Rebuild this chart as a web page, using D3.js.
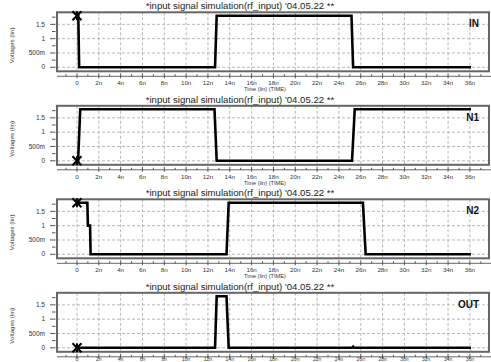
<!DOCTYPE html>
<html><head><meta charset="utf-8">
<script src="https://cdn.jsdelivr.net/npm/d3@7"></script>
<style>html,body{margin:0;padding:0;background:#fff;}svg{display:block;}</style>
</head><body>
<script>
// ---- data ----
const panelNames = ["IN", "N1", "N2", "OUT"];
const titleText = "*input signal simulation(rf_input)  '04.05.22 **";
const xTickValues = [0,2,4,6,8,10,12,14,16,18,20,22,24,26,28,30,32,34,36];
const xTickLabels = ["0","2n","4n","6n","8n","10n","12n","14n","16n","18n","20n","22n","24n","26n","28n","30n","32n","34n","36n"];
const yTickValues = [0, 0.5, 1, 1.5];
const yTickLabels = ["0", "500m", "1", "1.5"];
const xLabel = "Time (lin) (TIME)";
const yLabel = "Voltages (lin)";
// time in ns, voltage in V
const inT  = [0, 0.12, 0.2, 12.65, 12.8, 25.15, 25.3, 36.1];
const inV  = [1.8, 1.8, 0, 0, 1.8, 1.8, 0, 0];
const n1T  = [0, 0.1, 0.3, 12.6, 12.8, 25.2, 25.45, 36.1];
const n1V  = [0, 0, 1.8, 1.8, 0, 0, 1.8, 1.8];
const n2T  = [0, 0.95, 1.0, 1.2, 1.25, 13.7, 13.9, 26.2, 26.45, 36.1];
const n2V  = [1.8, 1.8, 1.0, 1.0, 0, 0, 1.8, 1.8, 0, 0];
const outT = [0, 12.65, 12.8, 13.7, 13.9, 25.2, 25.3, 25.4, 36.1];
const outV = [0, 0, 1.8, 1.8, 0, 0, 0.04, 0, 0];
const seriesT = [inT, n1T, n2T, outT];
const seriesV = [inV, n1V, n2V, outV];

// ---- layout ----
const W = 491, H = 362;
const frameL = 57, frameR = 489, frameH = 59, top0 = 12.3, step = 93.5;
const font = "'Liberation Sans', Arial, sans-serif";

const svg = d3.select("body").append("svg").attr("width", W).attr("height", H);
svg.append("rect").attr("width", W).attr("height", H).attr("fill", "#fff");

const x = d3.scaleLinear().domain([-1.83, 37.75]).range([frameL, frameR]);

panelNames.forEach((name, i) => {
  const top = top0 + i * step;
  const last = i === panelNames.length - 1;
  const y = d3.scaleLinear().domain([-0.14, 1.92]).range([top + frameH, top]);
  const g = svg.append("g");

  // title
  g.append("text").attr("x", 240).attr("y", top - 3.3).attr("text-anchor", "middle")
    .attr("font-family", font).attr("font-size", 9.6).attr("fill", "#222").text(titleText);

  // grid
  g.selectAll(".vg").data(xTickValues).enter().append("line")
    .attr("x1", d => x(d)).attr("x2", d => x(d)).attr("y1", top).attr("y2", top + frameH)
    .attr("stroke", "#b0b0b0").attr("stroke-width", 0.9).attr("stroke-dasharray", "3,2");
  g.selectAll(".hg").data(yTickValues).enter().append("line")
    .attr("x1", frameL).attr("x2", frameR).attr("y1", d => y(d)).attr("y2", d => y(d))
    .attr("stroke", "#b0b0b0").attr("stroke-width", 0.9).attr("stroke-dasharray", "3,2");

  // frame
  g.append("rect").attr("x", frameL).attr("y", top).attr("width", frameR - frameL).attr("height", frameH)
    .attr("fill", "none").attr("stroke", "#666").attr("stroke-width", 2);

  // y ticks (major every 0.5, minor every 0.25)
  const yMinor = d3.range(0, 1.76, 0.25);
  g.selectAll(".yt").data(yMinor).enter().append("line")
    .attr("x1", d => (Math.abs(d % 0.5) < 1e-6 ? 50 : 52)).attr("x2", 55.5)
    .attr("y1", d => y(d)).attr("y2", d => y(d)).attr("stroke", "#444").attr("stroke-width", 0.9);
  g.selectAll(".yl").data(yTickValues).enter().append("text")
    .attr("x", 45).attr("y", d => y(d) + 2.2).attr("text-anchor", "end")
    .attr("font-family", font).attr("font-size", 6.5).attr("fill", "#333")
    .text((d, k) => yTickLabels[k]);

  // y label
  g.append("text").attr("transform", `translate(14,${top + 33}) rotate(-90)`)
    .attr("text-anchor", "middle").attr("font-family", font).attr("font-size", 6.2)
    .attr("fill", "#333").text(yLabel);

  // x axis line below frame
  const ax = top + frameH + 5;
  g.append("line").attr("x1", frameL).attr("x2", W).attr("y1", ax).attr("y2", ax)
    .attr("stroke", "#555").attr("stroke-width", 0.9);
  const xMinor = d3.range(-1, 38, 1);
  g.selectAll(".xt").data(xMinor).enter().append("line")
    .attr("x1", d => x(d)).attr("x2", d => x(d))
    .attr("y1", d => ax - (d % 2 === 0 ? 3 : 2)).attr("y2", d => ax + (d % 2 === 0 ? 2 : 0))
    .attr("stroke", "#444").attr("stroke-width", 0.9);
  const labY = last ? Math.min(ax + 9, H - 0.8) : ax + 9;
  g.selectAll(".xl").data(xTickValues).enter().append("text")
    .attr("x", d => x(d)).attr("y", labY).attr("text-anchor", "middle")
    .attr("font-family", font).attr("font-size", last ? 5 : 6.2).attr("fill", "#333")
    .text((d, k) => xTickLabels[k]);
  if (!last) {
    g.append("text").attr("x", 244).attr("y", ax + 15).attr("font-family", font)
      .attr("font-size", 5.6).attr("fill", "#333").text(xLabel);
  }

  // trace
  const pts = seriesT[i].map((t, k) => [t, seriesV[i][k]]);
  const line = d3.line().x(d => x(d[0])).y(d => y(d[1]));
  g.append("path").datum(pts).attr("d", line).attr("fill", "none")
    .attr("stroke", "#000").attr("stroke-width", 2.6).attr("stroke-linejoin", "miter");

  // start marker (asterisk)
  const mx = x(seriesT[i][0]), my = y(seriesV[i][0]);
  const r = 4.5;
  [[-r, -r, r, r], [-r, r, r, -r], [0, -r, 0, r]].forEach(s => {
    g.append("line").attr("x1", mx + s[0]).attr("y1", my + s[1]).attr("x2", mx + s[2]).attr("y2", my + s[3])
      .attr("stroke", "#000").attr("stroke-width", 2);
  });

  // trace name
  g.append("text").attr("x", 479).attr("y", top + 15).attr("text-anchor", "end")
    .attr("font-family", font).attr("font-weight", "bold").attr("font-size", 10)
    .attr("fill", "#111").text(name);
});
</script>
</body></html>
